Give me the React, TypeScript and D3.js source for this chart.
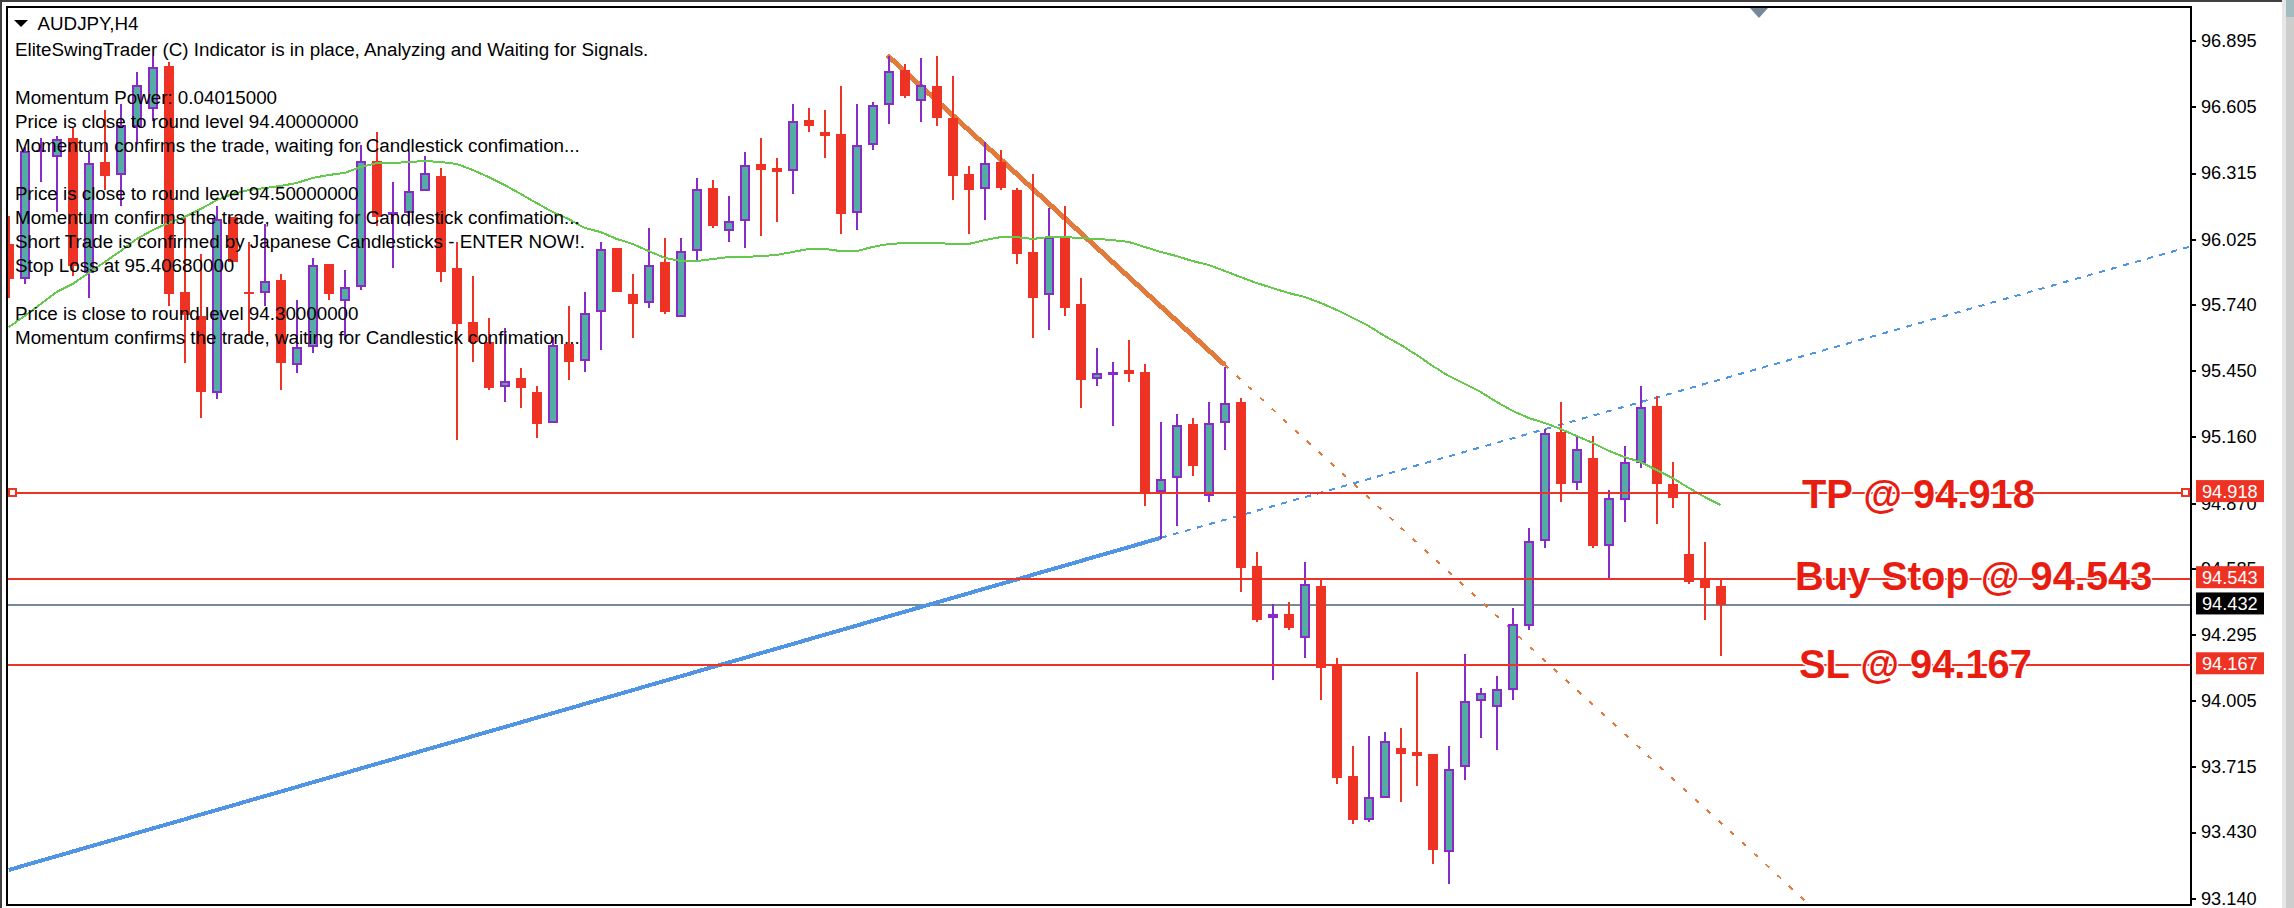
import { useEffect, useRef } from "react";
import * as d3 from "d3";

const width = 2294;
const height = 908;

// plot frame
const frame = { left: 7, top: 7, right: 2191, bottom: 905 };

const symbol = "AUDJPY,H4";

// one entry per chart row, "" is an empty row
const infoLines = [
  "EliteSwingTrader (C) Indicator is in place, Analyzing and Waiting for Signals.",
  "",
  "Momentum Power: 0.04015000",
  "Price is close to round level 94.40000000",
  "Momentum confirms the trade, waiting for Candlestick confimation...",
  "",
  "Price is close to round level 94.50000000",
  "Momentum confirms the trade, waiting for Candlestick confimation...",
  "Short Trade is confirmed by Japanese Candlesticks - ENTER NOW!.",
  "Stop Loss at 95.40680000",
  "",
  "Price is close to round level 94.30000000",
  "Momentum confirms the trade, waiting for Candlestick confimation...",
];

const tickPrices = [
  96.895, 96.605, 96.315, 96.025, 95.74, 95.45, 95.16, 94.87, 94.585, 94.295,
  94.005, 93.715, 93.43, 93.14,
];

const opens = [
  96.005, 95.853, 96.414, 96.384, 96.469, 95.879, 96.362, 96.305, 96.515, 96.594,
  96.784, 95.795, 95.69, 95.351, 96.124, 95.795, 95.789, 95.847, 95.474, 95.555,
  95.917, 95.754, 95.815, 96.37, 96.14, 96.139, 96.235, 96.302, 95.9, 95.663,
  95.576, 95.377, 95.418, 95.357, 95.22, 95.567, 95.491, 95.708, 95.988, 95.786,
  95.745, 95.926, 95.684, 95.973, 96.25, 96.06, 96.104, 96.355, 96.338, 96.323,
  96.548, 96.495, 96.487, 96.139, 96.437, 96.612, 96.767, 96.63, 96.697, 96.557,
  96.312, 96.244, 96.364, 96.242, 95.97, 95.78, 96.031, 95.742, 95.412, 95.43,
  95.453, 95.444, 94.92, 94.982, 95.216, 94.902, 95.219, 95.311, 94.595, 94.367,
  94.384, 94.281, 94.507, 94.162, 93.676, 93.485, 93.581, 93.798, 93.781, 93.772,
  93.344, 93.713, 94.003, 93.976, 94.054, 94.334, 94.703, 95.182, 94.957, 95.068,
  94.683, 94.886, 95.044, 95.295, 94.954, 94.648, 94.538, 94.508,
];
const highs = [
  96.127, 96.431, 96.467, 96.478, 96.511, 96.409, 96.591, 96.618, 96.758, 96.828,
  96.802, 96.124, 95.961, 96.171, 96.124, 96.012, 96.092, 95.873, 95.76, 95.942,
  95.917, 95.891, 96.438, 96.495, 96.276, 96.409, 96.39, 96.336, 96.015, 95.865,
  95.682, 95.635, 95.46, 95.383, 95.599, 95.733, 95.795, 96.012, 95.988, 95.874,
  96.075, 96.031, 96.031, 96.294, 96.285, 96.215, 96.408, 96.469, 96.382, 96.618,
  96.6, 96.592, 96.697, 96.618, 96.627, 96.828, 96.793, 96.819, 96.828, 96.741,
  96.347, 96.452, 96.417, 96.25, 96.312, 96.163, 96.171, 95.856, 95.55, 95.488,
  95.585, 95.48, 95.225, 95.261, 95.243, 95.312, 95.466, 95.329, 94.657, 94.429,
  94.438, 94.612, 94.538, 94.192, 93.807, 93.85, 93.868, 93.886, 94.131, 93.772,
  93.807, 94.21, 94.06, 94.114, 94.411, 94.762, 95.194, 95.312, 95.164, 95.164,
  94.928, 95.12, 95.383, 95.339, 95.05, 94.92, 94.7, 94.537,
];
const lows = [
  95.77, 95.83, 96.278, 96.147, 95.865, 95.77, 96.241, 96.171, 96.445, 96.545,
  95.735, 95.482, 95.244, 95.325, 95.927, 95.602, 95.733, 95.366, 95.439, 95.526,
  95.76, 95.584, 95.803, 96.084, 95.901, 96.084, 96.235, 95.838, 95.147, 95.49,
  95.366, 95.314, 95.287, 95.157, 95.22, 95.409, 95.446, 95.541, 95.795, 95.593,
  95.725, 95.699, 95.684, 95.932, 96.075, 96.014, 95.988, 96.04, 96.101, 96.224,
  96.495, 96.382, 96.049, 96.066, 96.417, 96.53, 96.644, 96.539, 96.522, 96.198,
  96.049, 96.11, 96.242, 95.918, 95.593, 95.629, 95.69, 95.287, 95.383, 95.208,
  95.401, 94.858, 94.713, 94.769, 94.988, 94.876, 95.102, 94.481, 94.349, 94.097,
  94.316, 94.192, 94.01, 93.642, 93.467, 93.476, 93.581, 93.563, 93.633, 93.292,
  93.203, 93.659, 93.843, 93.791, 94.01, 94.316, 94.675, 94.876, 94.929, 94.675,
  94.543, 94.789, 95.025, 94.78, 94.851, 94.518, 94.359, 94.203,
];
const closes = [
  95.85, 96.414, 96.418, 96.466, 95.908, 96.361, 96.304, 96.527, 96.702, 96.781,
  95.786, 95.694, 95.358, 96.116, 95.927, 95.786, 95.844, 95.482, 95.555, 95.914,
  95.786, 95.818, 96.37, 96.124, 96.144, 96.238, 96.317, 95.884, 95.654, 95.576,
  95.374, 95.406, 95.374, 95.217, 95.564, 95.488, 95.704, 95.984, 95.795, 95.742,
  95.915, 95.707, 95.976, 96.247, 96.084, 96.107, 96.352, 96.329, 96.32, 96.545,
  96.522, 96.478, 96.136, 96.44, 96.615, 96.764, 96.653, 96.703, 96.557, 96.303,
  96.242, 96.361, 96.25, 95.961, 95.769, 96.037, 95.725, 95.41, 95.442, 95.445,
  95.436, 94.917, 94.976, 95.213, 95.033, 95.222, 95.309, 94.587, 94.358, 94.384,
  94.325, 94.515, 94.148, 93.668, 93.485, 93.585, 93.829, 93.772, 93.763, 93.351,
  93.708, 94.006, 94.04, 94.057, 94.339, 94.706, 95.179, 94.956, 95.108, 94.683,
  94.891, 95.049, 95.293, 94.956, 94.894, 94.527, 94.5, 94.423,
];

// moving average, one value per bar
const maValues = [
  95.641, 95.69, 95.742, 95.795, 95.83, 95.878, 95.926, 95.974, 96.027, 96.066,
  96.097, 96.123, 96.158, 96.197, 96.224, 96.241, 96.25, 96.259, 96.272, 96.294,
  96.307, 96.316, 96.342, 96.359, 96.359, 96.364, 96.368, 96.364, 96.355, 96.329,
  96.298, 96.263, 96.224, 96.184, 96.145, 96.114, 96.075, 96.057, 96.027, 96.005,
  95.974, 95.944, 95.93, 95.93, 95.939, 95.948, 95.948, 95.952, 95.957, 95.97,
  95.983, 95.983, 95.974, 95.974, 95.992, 96.005, 96.009, 96.009, 96.009, 96.005,
  96.005, 96.022, 96.035, 96.035, 96.027, 96.035, 96.035, 96.031, 96.027, 96.022,
  96.014, 95.992, 95.97, 95.952, 95.93, 95.913, 95.887, 95.86, 95.834, 95.812,
  95.79, 95.773, 95.747, 95.716, 95.681, 95.646, 95.602, 95.563, 95.519, 95.471,
  95.427, 95.392, 95.357, 95.313, 95.274, 95.243, 95.221, 95.195, 95.164, 95.134,
  95.099, 95.072, 95.05, 95.015, 94.98, 94.937, 94.897, 94.862,
];

// trend lines: bar number and price of each anchor
const blueBars = [0, 72, 136.3];
const bluePrices = [93.264, 94.718, 95.993];
const orangeBars = [54.9, 76, 112.5];
const orangePrices = [96.832, 95.475, 93.115];

const levelPrices = [94.916, 94.539, 94.162];
const levelTags = ["94.918", "94.543", "94.167"];
const levelNotes = ["TP @ 94.918", "Buy Stop @ 94.543", "SL @ 94.167"];
const notePositions = [
  [1802, 508],
  [1795, 590],
  [1799, 678],
];

const lastPrice = 94.424;
const lastTag = "94.432";

const RED = "#ee3325";
const TEAL = "#55aca5";
const PURPLE = "#8a2bc8";
const GREEN = "#66c84d";
const ORANGE = "#e27a3c";
const BLUE = "#5095e3";
const GRAY = "#778899";
const NOTE_RED = "#e81d12";
const FONT = "'Liberation Sans', Arial, sans-serif";

export default function App() {
  const ref = useRef<SVGSVGElement>(null);

  useEffect(() => {
    const svg = d3.select(ref.current);
    svg.selectAll("*").remove();

    const x = d3.scaleLinear().domain([0, 107]).range([8.7, 1720.7]);
    const y = d3.scaleLinear().domain([96.895, 93.14]).range([40.7, 898.3]);

    // window chrome
    svg.append("rect").attr("width", width).attr("height", height).attr("fill", "white");
    svg.append("rect").attr("width", 2282).attr("height", 2).attr("fill", "#404040");
    svg.append("rect").attr("width", 2).attr("height", height).attr("fill", "#404040");
    svg.append("rect").attr("x", 2282).attr("width", 4).attr("height", height).attr("fill", "#e6e6e6");
    svg.append("rect").attr("x", 2286).attr("width", 8).attr("height", height).attr("fill", "#cdcdcd");
    svg.append("rect").attr("x", 2286).attr("width", 8).attr("height", 17).attr("fill", "#a3bcc0");

    svg
      .append("defs")
      .append("clipPath")
      .attr("id", "plot")
      .append("rect")
      .attr("x", frame.left + 1)
      .attr("y", frame.top + 1)
      .attr("width", frame.right - frame.left - 2)
      .attr("height", frame.bottom - frame.top - 2);

    const plot = svg.append("g").attr("clip-path", "url(#plot)");

    // current price line sits under the candles
    plot
      .append("line")
      .attr("x1", frame.left)
      .attr("x2", frame.right)
      .attr("y1", y(lastPrice))
      .attr("y2", y(lastPrice))
      .attr("stroke", GRAY)
      .attr("stroke-width", 2)
      .attr("shape-rendering", "crispEdges");

    const trend = d3
      .line<[number, number]>()
      .x((d) => x(d[0]))
      .y((d) => y(d[1]));

    function drawTrend(bars: number[], prices: number[], color: string, thick: number, dash: string) {
      const pts = bars.map((b, i) => [b, prices[i]] as [number, number]);
      plot
        .append("path")
        .attr("d", trend(pts.slice(0, 2)))
        .attr("fill", "none")
        .attr("stroke", color)
        .attr("stroke-width", thick)
        .attr("shape-rendering", "crispEdges");
      plot
        .append("path")
        .attr("d", trend(pts.slice(1)))
        .attr("fill", "none")
        .attr("stroke", color)
        .attr("stroke-width", 2)
        .attr("stroke-dasharray", dash)
        .attr("shape-rendering", "crispEdges");
    }
    drawTrend(blueBars, bluePrices, BLUE, 4, "6 6.5");
    drawTrend(orangeBars, orangePrices, ORANGE, 5, "5 11");

    // candles
    const candles = d3.range(opens.length).map((i) => ({
      i,
      open: opens[i],
      high: highs[i],
      low: lows[i],
      close: closes[i],
      up: closes[i] >= opens[i],
    }));

    const g = plot.append("g").attr("shape-rendering", "crispEdges");
    g.selectAll("line")
      .data(candles)
      .join("line")
      .attr("x1", (d) => x(d.i))
      .attr("x2", (d) => x(d.i))
      .attr("y1", (d) => y(d.high))
      .attr("y2", (d) => y(d.low))
      .attr("stroke", (d) => (d.up ? PURPLE : RED))
      .attr("stroke-width", 2);
    g.selectAll("rect")
      .data(candles)
      .join("rect")
      .attr("x", (d) => x(d.i) - (d.up ? 4 : 5))
      .attr("width", (d) => (d.up ? 8 : 10))
      .attr("y", (d) => y(Math.max(d.open, d.close)) + (d.up ? 1 : 0))
      .attr("height", (d) => {
        const h = Math.abs(y(d.open) - y(d.close));
        return d.up ? Math.max(0.5, h - 2) : Math.max(2, h);
      })
      .attr("fill", (d) => (d.up ? TEAL : RED))
      .attr("stroke", (d) => (d.up ? PURPLE : "none"))
      .attr("stroke-width", 2);

    // moving average
    plot
      .append("path")
      .attr(
        "d",
        d3
          .line<number>()
          .x((_, i) => x(i))
          .y((d) => y(d))(maValues)
      )
      .attr("fill", "none")
      .attr("stroke", GREEN)
      .attr("stroke-width", 2)
      .attr("shape-rendering", "crispEdges");

    // order levels
    levelPrices.forEach((p) => {
      plot
        .append("line")
        .attr("x1", frame.left)
        .attr("x2", frame.right)
        .attr("y1", y(p))
        .attr("y2", y(p))
        .attr("stroke", RED)
        .attr("stroke-width", 2)
        .attr("shape-rendering", "crispEdges");
    });

    // anchors at both ends of the TP line
    [12.5, 2185.5].forEach((cx) => {
      plot
        .append("rect")
        .attr("x", cx - 3.5)
        .attr("y", y(levelPrices[0]) - 3.5)
        .attr("width", 7)
        .attr("height", 7)
        .attr("fill", "white")
        .attr("stroke", RED)
        .attr("stroke-width", 2)
        .attr("shape-rendering", "crispEdges");
    });

    // frame
    svg
      .append("rect")
      .attr("x", frame.left)
      .attr("y", frame.top)
      .attr("width", frame.right - frame.left)
      .attr("height", frame.bottom - frame.top)
      .attr("fill", "none")
      .attr("stroke", "black")
      .attr("stroke-width", 2)
      .attr("shape-rendering", "crispEdges");

    // price axis
    const axis = svg
      .append("g")
      .attr("transform", `translate(${frame.right},0)`)
      .call(
        d3
          .axisRight(y)
          .tickValues(tickPrices)
          .tickSize(5)
          .tickPadding(5)
          .tickFormat(d3.format(".3f") as any)
      );
    axis.select(".domain").remove();
    axis.selectAll("line").attr("stroke", "black").attr("stroke-width", 2).attr("shape-rendering", "crispEdges");
    axis
      .selectAll("text")
      .attr("fill", "black")
      .style("font-family", FONT)
      .style("font-size", "18.2px");

    // price tags over the axis
    function drawTag(price: number, label: string, fill: string) {
      const yy = y(price);
      svg
        .append("rect")
        .attr("x", 2196)
        .attr("y", yy - 12.6)
        .attr("width", 68)
        .attr("height", 22)
        .attr("fill", fill);
      svg
        .append("text")
        .attr("x", 2202)
        .attr("y", yy + 5)
        .attr("fill", "white")
        .style("font-family", FONT)
        .style("font-size", "18.2px")
        .text(label);
    }
    levelPrices.forEach((p, i) => drawTag(p, levelTags[i], RED));
    drawTag(lastPrice, lastTag, "black");

    // big order notes
    levelNotes.forEach((note, i) => {
      svg
        .append("text")
        .attr("x", notePositions[i][0])
        .attr("y", notePositions[i][1])
        .attr("fill", NOTE_RED)
        .attr("stroke", "white")
        .attr("stroke-width", 3)
        .attr("paint-order", "stroke")
        .style("font-family", FONT)
        .style("font-weight", "bold")
        .style("font-size", "39.8px")
        .text(note);
    });

    // info text
    const info = svg.append("g").style("font-family", FONT).style("font-size", "18.8px").attr("fill", "black");
    info.append("path").attr("d", "M14,20 L28,20 L21,27 Z");
    info.append("text").attr("x", 37.5).attr("y", 30).text(symbol);
    infoLines.forEach((line, i) => {
      if (line) info.append("text").attr("x", 15).attr("y", 56 + 24 * i).text(line);
    });

    // period separator marker on the top edge
    svg
      .append("path")
      .attr("d", "M1750,8 L1768,8 L1759,18 Z")
      .attr("fill", GRAY);
  }, []);

  return (
    <svg
      ref={ref}
      width={width}
      height={height}
      style={{ position: "absolute", left: 0, top: 0, display: "block" }}
    />
  );
}
